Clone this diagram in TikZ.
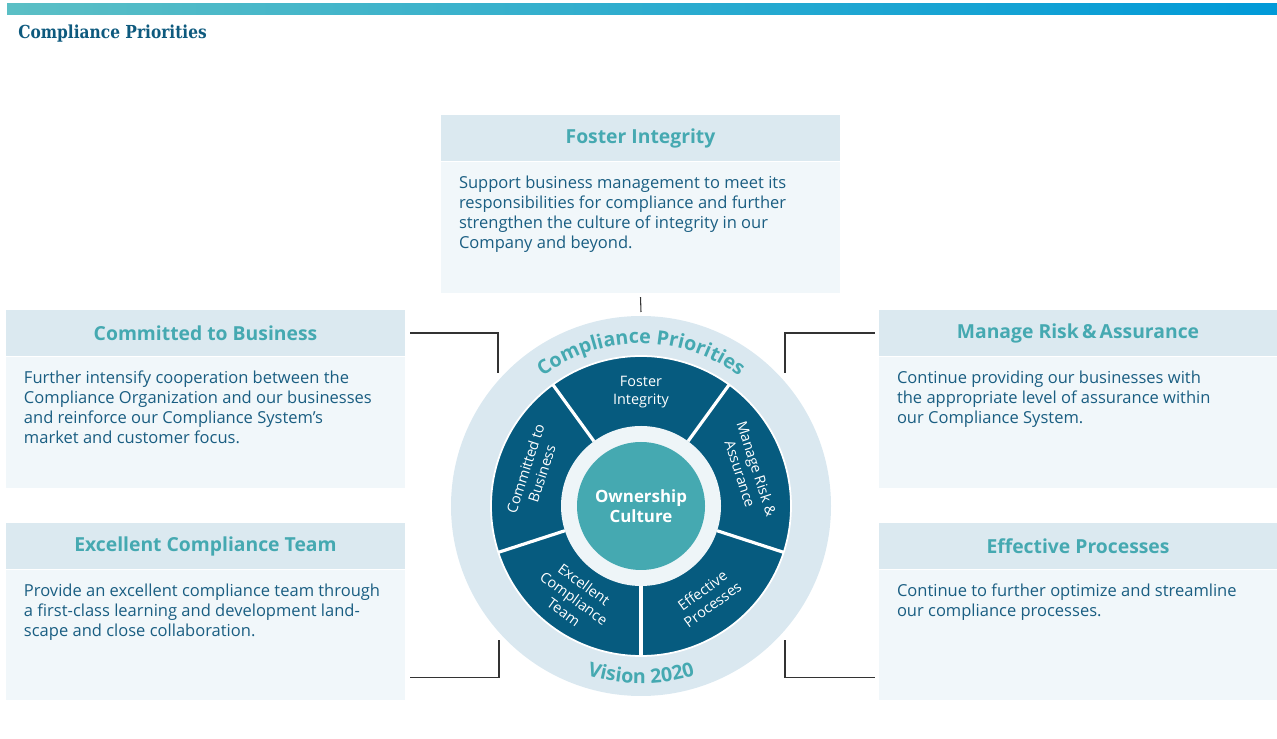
\documentclass[tikz,border=0pt]{standalone}
\usepackage{fontspec}
\setmainfont{Open Sans}
\newfontfamily\slabfont[FakeStretch=0.86]{DejaVu Serif}
\usepackage{tikz}
\usetikzlibrary{positioning, calc, decorations.text}

\definecolor{barleft}{HTML}{5BBFC5}
\definecolor{barmid}{HTML}{00A9B5}
\definecolor{barright}{HTML}{009AD8}
\definecolor{titleblue}{HTML}{0E5A7E}
\definecolor{hdrfill}{HTML}{DBE9F0}
\definecolor{bodyfill}{HTML}{F1F7FA}
\definecolor{hdrtext}{HTML}{45A9B1}
\definecolor{desctext}{HTML}{1A5E82}
\definecolor{segfill}{HTML}{065B7F}
\definecolor{ringfill}{HTML}{DAE8F0}
\definecolor{hubring}{HTML}{EEF5F8}
\definecolor{linkgray}{HTML}{333333}

\newcommand{\ringfont}{\fontsize{11.2}{13}\selectfont\bfseries}

\begin{document}
\begin{tikzpicture}[
  hdr/.style={fill=hdrfill, minimum width=7.98cm, minimum height=0.92cm, inner sep=0pt,
    font=\fontsize{11}{13}\selectfont\bfseries, text=hdrtext},
  bodybox/.style={fill=bodyfill, minimum width=7.98cm, minimum height=2.62cm, inner sep=0pt},
  desc/.style={anchor=north west, inner sep=0pt, align=left,
    font=\fontsize{9.4}{11.4}\selectfont, text=desctext},
  seg/.style={text=white, align=center, inner sep=0pt, font=\fontsize{8.2}{9.8}\selectfont},
  link/.style={draw=linkgray, line width=0.6pt}
]
  \useasboundingbox (0,0) rectangle (25.54,14.78);

  % Heading
  \shade[left color=barleft, middle color=barmid, right color=barright]
    (0.14,14.48) rectangle (25.54,14.70);
  \node[anchor=west, inner sep=0pt, text=titleblue, font=\slabfont\bfseries\fontsize{10.2}{12}\selectfont]
    (title) at (0.36,14.10) {Compliance Priorities};

  % Foster Integrity
  \node[hdr] (fosterhd) at (12.81,12.02) {Foster Integrity};
  \node[bodybox, below=0pt of fosterhd] (fosterbd) {};
  \node[desc] (fostertx) at ($(fosterbd.north west)+(0.36,-0.28)$)
    {Support business management to meet its\\responsibilities for compliance and further\\strengthen the culture of integrity in our\\Company and beyond.};

  % Committed to Business
  \node[hdr] (commithd) at (4.11,8.12) {Committed to Business};
  \node[bodybox, below=0pt of commithd] (commitbd) {};
  \node[desc] (committx) at ($(commitbd.north west)+(0.36,-0.28)$)
    {Further intensify cooperation between the\\Compliance Organization and our businesses\\and reinforce our Compliance System’s\\market and customer focus.};

  % Excellent Compliance Team
  \node[hdr] (teamhd) at (4.11,3.86) {Excellent Compliance Team};
  \node[bodybox, below=0pt of teamhd, minimum height=2.60cm] (teambd) {};
  \node[desc] (teamtx) at ($(teambd.north west)+(0.36,-0.28)$)
    {Provide an excellent compliance team through\\a first-class learning and development land-\\scape and close collaboration.};

  % Manage Risk & Assurance
  \node[hdr, minimum width=7.96cm] (riskhd) at (21.56,8.12) {Manage Risk\,\&\,Assurance};
  \node[bodybox, minimum width=7.96cm, below=0pt of riskhd] (riskbd) {};
  \node[desc] (risktx) at ($(riskbd.north west)+(0.36,-0.28)$)
    {Continue providing our businesses with\\the appropriate level of assurance within\\our Compliance System.};

  % Effective Processes
  \node[hdr, minimum width=7.96cm] (prochd) at (21.56,3.86) {Effective Processes};
  \node[bodybox, minimum width=7.96cm, minimum height=2.60cm, below=0pt of prochd] (procbd) {};
  \node[desc] (proctx) at ($(procbd.north west)+(0.36,-0.28)$)
    {Continue to further optimize and streamline\\our compliance processes.};

  % Wheel
  \node[circle, fill=ringfill, minimum size=7.6cm, inner sep=0pt] (ring) at (12.82,4.66) {};
  \fill[segfill] (ring.center) circle (3.0);
  \draw[white, line width=1pt] (ring.center) circle (3.0);
  \fill[hubring] (ring.center) circle (1.6);
  \foreach \a in {270,342,54,126,198}
    \draw[white, line width=1.8pt] ($(ring.center)+(\a:1.6)$) -- ($(ring.center)+(\a:3.0)$);
  \node[circle, fill=hdrtext, minimum size=2.56cm, inner sep=0pt, align=center, text=white,
    font=\fontsize{9.6}{11.4}\selectfont\bfseries] (hub) at (ring.center) {Ownership\\Culture};

  \node[seg] (sfoster) at ($(ring.center)+(90:2.28)$) {Foster\\Integrity};
  \node[seg, rotate=-72] (srisk) at ($(ring.center)+(18:2.26)$) {Manage Risk \&\\Assurance};
  \node[seg, rotate=36] (sproc) at ($(ring.center)+(-54:2.26)$) {Effective\\Processes};
  \node[seg, rotate=-36] (steam) at ($(ring.center)+(234:2.28)$) {Excellent\\Compliance\\Team};
  \node[seg, rotate=72] (scommit) at ($(ring.center)+(162:2.26)$) {Committed to\\Business};

  \path[decorate, decoration={text along path, text align=center, text color=hdrtext,
    text={|\ringfont|Compliance Priorities}}]
    ($(ring.center)+(160:3.25)$) arc (160:20:3.25);
  \path[decorate, decoration={text along path, text align=center, text color=hdrtext,
    text={|\ringfont|Vision 2020}}]
    ($(ring.center)+(230:3.55)$) arc (230:310:3.55);

  % Connectors
  \coordinate (fiend) at (12.82,8.54);
  \coordinate (cbend) at (9.96,7.32);
  \coordinate (tmend) at (9.98,1.98);
  \coordinate (rmend) at (15.70,7.32);
  \coordinate (epend) at (15.70,1.98);
  \draw[link] ($(fosterbd.south)+(0,-0.08)$) -- (fiend);
  \draw[link] ($(commithd.east)+(0.1,0)$) -| (cbend);
  \draw[link] ($(teambd.south east)+(0.1,0.46)$) -| (tmend);
  \draw[link] ($(riskhd.west)+(-0.08,0)$) -| (rmend);
  \draw[link] ($(procbd.south west)+(-0.08,0.46)$) -| (epend);
\end{tikzpicture}
\end{document}
